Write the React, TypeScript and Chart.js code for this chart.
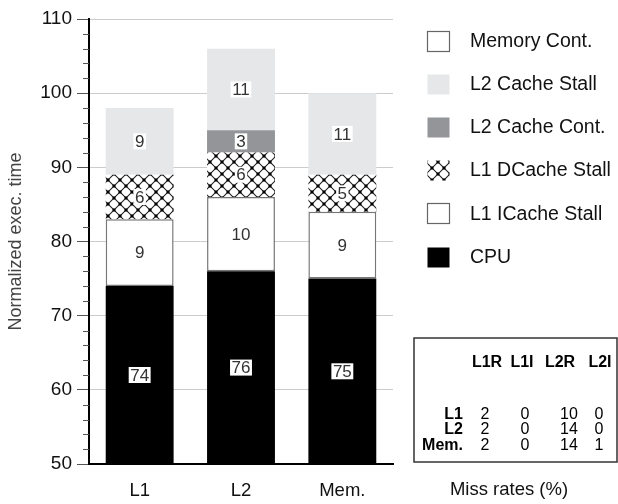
import { useEffect, useRef } from "react";
import { Chart, registerables } from "chart.js";

Chart.register(...registerables);

const categories = ["L1", "L2", "Mem."];
const seriesLabels = ["CPU", "L1 ICache Stall", "L1 DCache Stall", "L2 Cache Cont.", "L2 Cache Stall", "Memory Cont."];
const cpu = [74, 76, 75];
const l1ICacheStall = [9, 10, 9];
const l1DCacheStall = [6, 6, 5];
const l2CacheCont = [0, 3, 0];
const l2CacheStall = [9, 11, 11];
const memoryCont = [0, 0, 0];

const yMin = 50;
const yMax = 110;
const yStep = 10;
const yMinorStep = 2;

const missHeaders = ["L1R", "L1I", "L2R", "L2I"];
const missRowLabels = ["L1", "L2", "Mem."];
const missL1 = [2, 0, 10, 0];
const missL2 = [2, 0, 14, 0];
const missMem = [2, 0, 14, 1];
const missTitle = "Miss rates (%)";

const FONT = '"Liberation Sans", Arial, Helvetica, sans-serif';

function makeHatch(): CanvasPattern | string {
  const P = 12;
  const c = document.createElement("canvas");
  c.width = P;
  c.height = P;
  const g = c.getContext("2d");
  if (!g) return "#fff";
  g.fillStyle = "#fff";
  g.fillRect(0, 0, P, P);
  g.strokeStyle = "#222";
  g.lineWidth = 1.1;
  g.beginPath();
  g.moveTo(0, 0);
  g.lineTo(P, P);
  g.moveTo(P, 0);
  g.lineTo(0, P);
  g.stroke();
  g.fillStyle = "#000";
  g.fillRect(P / 2 - 1.5, P / 2 - 1.5, 3, 3);
  g.fillRect(0, 0, 1.5, 1.5);
  g.fillRect(P - 1.5, 0, 1.5, 1.5);
  g.fillRect(0, P - 1.5, 1.5, 1.5);
  g.fillRect(P - 1.5, P - 1.5, 1.5, 1.5);
  return g.createPattern(c, "repeat") || "#fff";
}

export default function App() {
  const ref = useRef<HTMLCanvasElement | null>(null);

  useEffect(() => {
    if (!ref.current) return;
    const hatch = makeHatch();
    const seriesData = [cpu, l1ICacheStall, l1DCacheStall, l2CacheCont, l2CacheStall, memoryCont];
    const fills: any[] = ["#000000", "#ffffff", hatch, "#939598", "#e6e7e8", "#ffffff"];
    const borders = ["#000000", "#777777", "rgba(0,0,0,0)", "rgba(0,0,0,0)", "rgba(0,0,0,0)", "#777777"];
    const bw = [0, 1.5, 0, 0, 0, 1.5];

    const minorTicks = {
      id: "minorTicks",
      afterDraw(chart: any) {
        const y = chart.scales.y;
        const ctx = chart.ctx;
        const left = chart.chartArea.left;
        ctx.save();
        ctx.strokeStyle = "#555";
        ctx.lineWidth = 1;
        for (let v = yMin; v <= yMax; v += yMinorStep) {
          if (v % yStep === 0) continue;
          const py = Math.round(y.getPixelForValue(v)) + 0.5;
          ctx.beginPath();
          ctx.moveTo(left - 6, py);
          ctx.lineTo(left, py);
          ctx.stroke();
        }
        ctx.restore();
      },
    };

    const valueLabels = {
      id: "valueLabels",
      afterDatasetsDraw(chart: any) {
        const ctx = chart.ctx;
        const area = chart.chartArea;
        ctx.save();
        ctx.font = `17px ${FONT}`;
        ctx.textAlign = "center";
        ctx.textBaseline = "middle";
        chart.data.datasets.forEach((ds: any, di: number) => {
          const meta = chart.getDatasetMeta(di);
          meta.data.forEach((el: any, i: number) => {
            const v = ds.data[i] as number;
            if (!v) return;
            const top = Math.max(el.y, area.top);
            const bot = Math.min(el.base, area.bottom);
            const cy = (top + bot) / 2;
            const cx = el.x;
            const t = String(v);
            const w = ctx.measureText(t).width;
            ctx.fillStyle = "#fff";
            ctx.fillRect(cx - w / 2 - 1.5, cy - 8, w + 3, 16);
            ctx.fillStyle = "#333";
            ctx.fillText(t, cx, cy + 1);
          });
        });
        ctx.restore();
      },
    };

    const legendAndTable = {
      id: "legendAndTable",
      afterDraw(chart: any) {
        const ctx = chart.ctx;
        const ds = chart.data.datasets;
        ctx.save();
        const n = ds.length;
        for (let k = 0; k < n; k++) {
          const d = ds[n - 1 - k];
          const cy = 40.5 + k * 43.2;
          const bx = 427.5;
          const by = Math.round(cy - 10) + 0.5;
          ctx.fillStyle = d.backgroundColor;
          ctx.fillRect(bx, by, 22, 20);
          if (d.borderWidth > 0) {
            ctx.strokeStyle = "#666";
            ctx.lineWidth = 1.2;
            ctx.strokeRect(bx, by, 22, 20);
          }
          ctx.fillStyle = "#111";
          ctx.font = `19.5px ${FONT}`;
          ctx.textAlign = "left";
          ctx.textBaseline = "middle";
          ctx.fillText(d.label, 470, cy + 1);
        }
        ctx.strokeStyle = "#333";
        ctx.lineWidth = 1.5;
        ctx.strokeRect(414, 338, 203, 124);
        const headerX = [487, 522, 560, 600];
        const valueX = [485, 525, 569, 599];
        const rowY = [415, 430, 446];
        ctx.fillStyle = "#000";
        ctx.font = `bold 16px ${FONT}`;
        ctx.textAlign = "center";
        ctx.textBaseline = "middle";
        missHeaders.forEach((h, i) => ctx.fillText(h, headerX[i], 363));
        ctx.textAlign = "right";
        missRowLabels.forEach((r, i) => ctx.fillText(r, 463, rowY[i]));
        ctx.font = `16px ${FONT}`;
        ctx.textAlign = "center";
        [missL1, missL2, missMem].forEach((row, ri) => {
          row.forEach((v, ci) => ctx.fillText(String(v), valueX[ci], rowY[ri]));
        });
        ctx.font = `18.5px ${FONT}`;
        ctx.fillStyle = "#111";
        ctx.fillText(missTitle, 509, 490);
        ctx.restore();
      },
    };

    const chart = new Chart(ref.current, {
      type: "bar",
      data: {
        labels: categories,
        datasets: seriesLabels.map((label, i) => ({
          label,
          data: seriesData[i],
          backgroundColor: fills[i],
          borderColor: borders[i],
          borderWidth: bw[i],
          borderSkipped: false,
          barPercentage: 0.67,
          categoryPercentage: 1,
        })),
      },
      options: {
        responsive: false,
        animation: false,
        events: [],
        layout: { padding: { left: 0, right: 225, top: 19, bottom: 0 } },
        plugins: {
          legend: { display: false },
          tooltip: { enabled: false },
        },
        scales: {
          x: {
            stacked: true,
            grid: { display: false, drawTicks: false },
            border: { display: true, color: "#000", width: 2 },
            ticks: { font: { size: 18.5, family: FONT }, color: "#111", padding: 16 },
            afterFit: (s: any) => {
              s.height = 40;
            },
          },
          y: {
            stacked: true,
            min: yMin,
            max: yMax,
            ticks: { stepSize: yStep, font: { size: 19, family: FONT }, color: "#111", padding: 5 },
            grid: { color: "#cccccc", lineWidth: 1, tickLength: 12, tickColor: "#555", drawTicks: true },
            border: { display: true, color: "#000", width: 2 },
            title: {
              display: true,
              text: "Normalized exec. time",
              font: { size: 18, family: FONT },
              color: "#444",
              padding: { top: 5, bottom: 0 },
            },
            afterFit: (s: any) => {
              s.width = 89;
            },
          },
        },
      },
      plugins: [minorTicks, valueLabels, legendAndTable],
    });
    return () => chart.destroy();
  }, []);

  return (
    <div style={{ position: "fixed", left: 0, top: 0, width: 618, height: 504, background: "#fff" }}>
      <canvas ref={ref} width={618} height={504} style={{ display: "block" }} />
    </div>
  );
}
